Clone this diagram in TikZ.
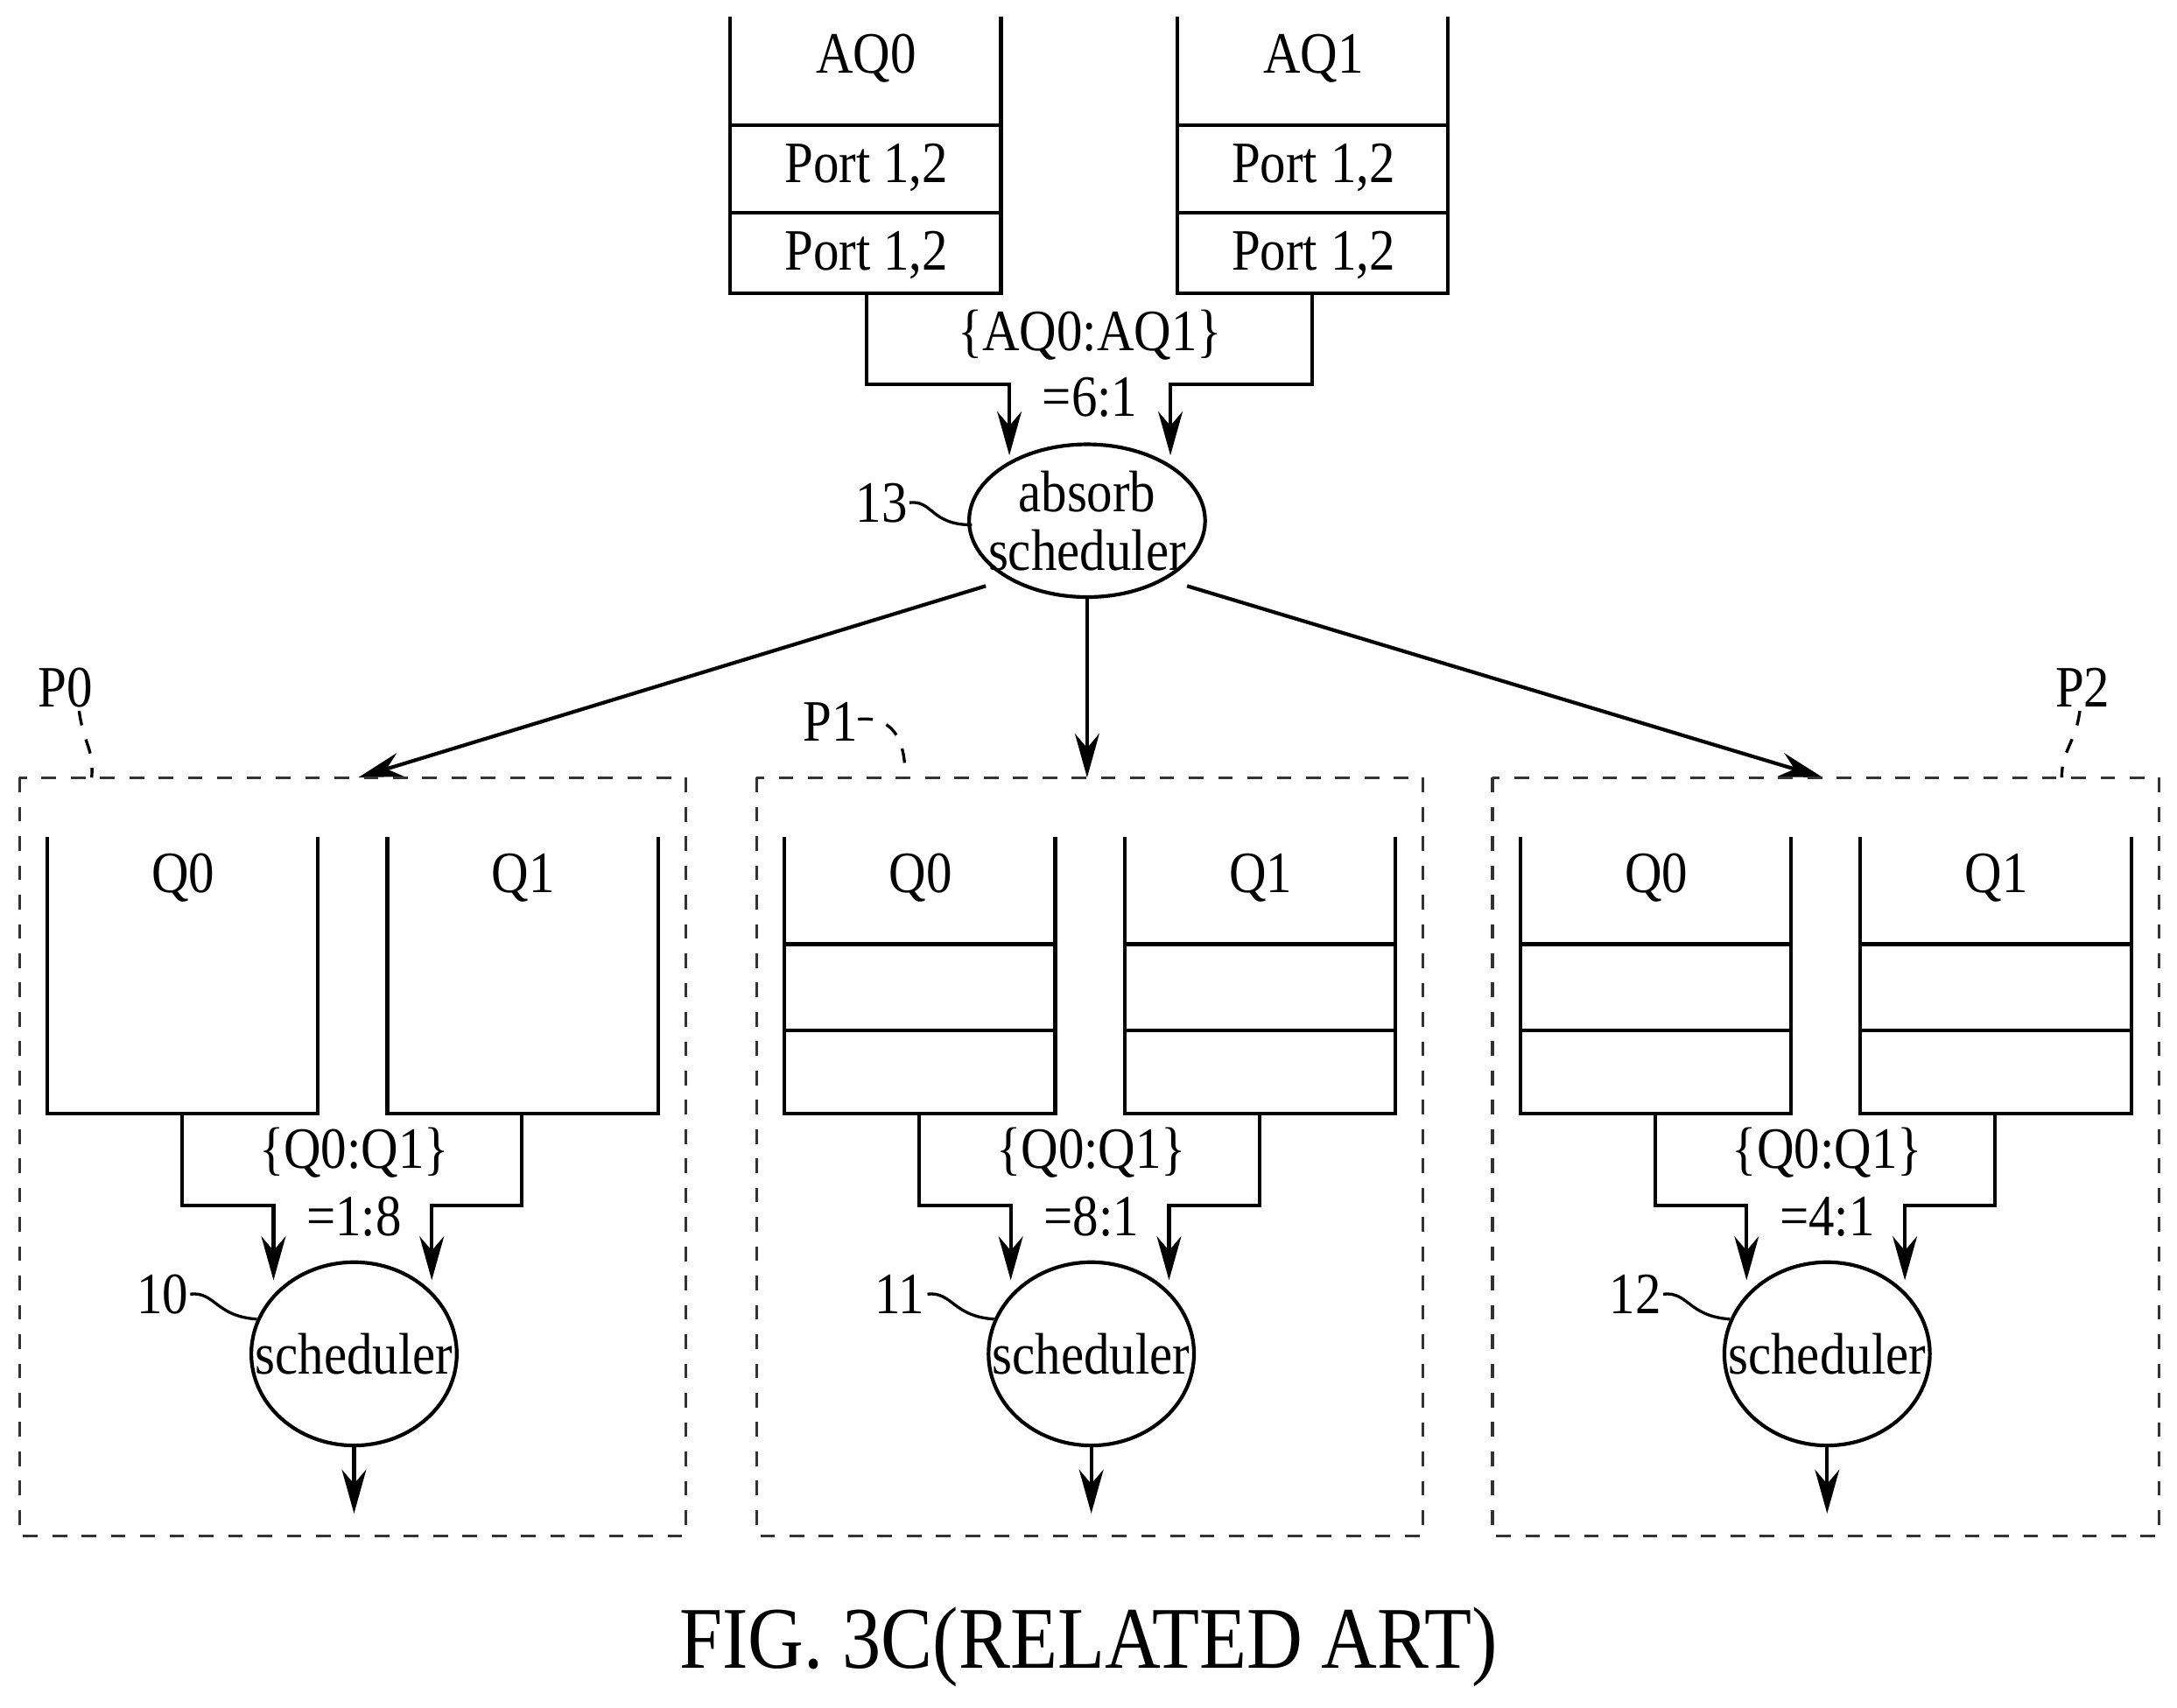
\documentclass[tikz,border=0pt]{standalone}
\usepackage{fontspec}
\setmainfont{Liberation Serif}[FakeStretch=0.88]
\usetikzlibrary{arrows.meta}
\begin{document}
\begin{tikzpicture}[x=0.01cm,y=-0.01cm,
  line width=0.75pt,
  t/.style={font=\fontsize{12}{13}\selectfont,inner sep=0pt},
  arr/.style={-{Stealth[length=9pt,width=5pt]}},
  dbox/.style={dashed,line width=0.6pt,gray!40!black},
  lead/.style={line width=0.6pt}]
\useasboundingbox (0,0) rectangle (1568,1230);
% top queues
\foreach \x/\n in {526/AQ0,848/AQ1}{
  \draw (\x,12) -- (\x,211) -- (\x+195,211) -- (\x+195,12);
  \draw (\x,90) -- (\x+195,90) (\x,153) -- (\x+195,153);
  \node[t] (\n) at (\x+98,42) {\n};
  \node[t] at (\x+98,121) {Port 1,2};
  \node[t] at (\x+98,184) {Port 1,2};
}
\coordinate (a0) at (624,211);
\coordinate (a1) at (945,211);
\draw[arr] (a0) -- (624,277) -- (727,277) -- (727,328);
\draw[arr] (a1) -- (945,277) -- (843,277) -- (843,328);
\node[t] at (785,241) {\{AQ0:AQ1\}};
\node[t] at (785,286) {=6:1};
\draw (783,375) ellipse [x radius=85, y radius=55];
\coordinate (abs) at (783,375);
\node[t,align=center] at (783,375) {absorb\\[-1pt]scheduler};
\node[t] (n13) at (635,362) {13};
\draw[lead] (655,362) .. controls (672,360) and (670,378) .. (700,378);
\draw[arr] (710,422) -- (258,560);
\draw[arr] (783,430) -- (783,560);
\draw[arr] (855,422) -- (1313,560);
% panels
\foreach \o/\r/\id/\full in {0/1:8/10/0,531/8:1/11/1,1061/4:1/12/1}{
 \begin{scope}[xshift=\o*0.01cm]
  \draw[dbox] (14,560) rectangle (494,1106);
  \foreach \x/\q in {34/Q0,279/Q1}{
    \draw (\x,603) -- (\x,802) -- (\x+195,802) -- (\x+195,603);
    \ifnum\full=1 \draw (\x,680) -- (\x+195,680) (\x,742) -- (\x+195,742); \fi
    \node[t] at (\x+98,632) {\q};
  }
  \draw[arr] (131,802) -- (131,868) -- (197,868) -- (197,922);
  \draw[arr] (376,802) -- (376,868) -- (311,868) -- (311,922);
  \node[t] at (255,830) {\{Q0:Q1\}};
  \node[t] at (255,876) {=\r};
  \draw (255,975) ellipse [x radius=74, y radius=66];
  \node[t] at (255,975) {scheduler};
  \draw[arr] (255,1041) -- (255,1090);
  \node[t] at (117,932) {\id};
  \draw[lead] (137,932) .. controls (155,930) and (155,948) .. (185,950);
 \end{scope}
}
\node[t] (p0) at (47,495) {P0};
\draw[lead,dashed] (57,512) .. controls (60,535) and (68,540) .. (66,560);
\node[t] (p1) at (598,520) {P1};
\draw[lead,dashed] (618,518) .. controls (648,515) and (652,540) .. (652,560);
\node[t] (p2) at (1500,495) {P2};
\draw[lead,dashed] (1498,512) .. controls (1495,535) and (1485,540) .. (1485,560);
\node[font=\fontsize{18}{20}\selectfont,inner sep=0pt] at (784,1186) {FIG. 3C(RELATED ART)};
\end{tikzpicture}
\end{document}
